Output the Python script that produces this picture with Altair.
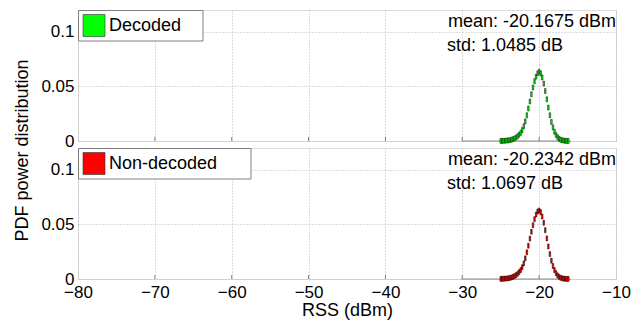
import altair as alt
import pandas as pd

FONT = "Liberation Sans"

# bin centres (dBm), bin width 0.2 dBm
centers = [round(-30 + 0.2 * i, 1) for i in range(71)]  # -30.0 ... -16.0
bin_half = 0.1

decoded_vals = [0.0] * 25 + [
    0.0001, 0.0001, 0.0002, 0.0003, 0.0004, 0.0006, 0.0008, 0.0012, 0.0017, 0.0024,
    0.0032, 0.0044, 0.0058, 0.0075, 0.0100, 0.0135, 0.0180, 0.0236, 0.0298, 0.0362,
    0.0428, 0.0490, 0.0547, 0.0590, 0.0620, 0.0635, 0.0620, 0.0582, 0.0526, 0.0458,
    0.0382, 0.0307, 0.0236, 0.0175, 0.0125, 0.0085, 0.0056, 0.0035, 0.0021, 0.0012,
    0.0007, 0.0004, 0.0002, 0.0001, 0.0001, 0.0,
]
nondecoded_vals = [0.0] * 25 + [
    0.0001, 0.0002, 0.0003, 0.0004, 0.0005, 0.0007, 0.0010, 0.0014, 0.0020, 0.0027,
    0.0036, 0.0048, 0.0063, 0.0082, 0.0108, 0.0143, 0.0189, 0.0244, 0.0305, 0.0370,
    0.0433, 0.0493, 0.0548, 0.0590, 0.0618, 0.0628, 0.0612, 0.0572, 0.0515, 0.0447,
    0.0372, 0.0298, 0.0228, 0.0168, 0.0119, 0.0081, 0.0053, 0.0033, 0.0020, 0.0011,
    0.0006, 0.0003, 0.0002, 0.0001, 0.0001, 0.0,
]

series_names = ["Decoded", "Non-decoded"]
series_colors = ["#00ff00", "#ff0000"]
legend_widths = [125, 173]
mean_texts = ["mean: -20.1675 dBm", "mean: -20.2342 dBm"]
std_texts = ["std: 1.0485 dB", "std: 1.0697 dB"]

x_ticks = [-80, -70, -60, -50, -40, -30, -20, -10]
y_ticks = [0, 0.05, 0.1]

W, H = 538, 131
GRID = "#b8b8b8"


def panel(vals, name, color, lw, mean_t, std_t, bottom):
    df = pd.DataFrame({
        "x0": [c - bin_half for c in centers],
        "x1": [c + bin_half for c in centers],
        "p": vals,
        "series": name,
    })
    if bottom:
        xaxis = alt.Axis(values=x_ticks, format="d", ticks=False, domain=False,
                         labelPadding=5, labelFontSize=17, labelFont=FONT,
                         labelColor="black", title="RSS (dBm)", titleFontSize=18,
                         titleFont=FONT, titleFontWeight="normal", titlePadding=1,
                         titleColor="black", grid=True, gridDash=[1, 2],
                         gridColor=GRID, labelFlush=False)
    else:
        xaxis = alt.Axis(values=x_ticks, labels=False, ticks=False, domain=False,
                         title=None, grid=True, gridDash=[1, 2], gridColor=GRID)
    yaxis = alt.Axis(values=y_ticks, format="~g", ticks=False, domain=False,
                     labelPadding=4, labelFontSize=17, labelFont=FONT,
                     labelColor="black", grid=True, gridDash=[1, 2],
                     gridColor=GRID,
                     title="PDF power distribution", titleFontSize=18,
                     titleFont=FONT, titleFontWeight="normal", titleColor="black",
                     titleX=-47, titleY=140 if not bottom else -3.5,
                     titleOpacity=1 if not bottom else 0)
    xs = alt.Scale(domain=[-80, -10], nice=False, padding=0, zero=False)
    ys = alt.Scale(domain=[0, 0.12], nice=False, padding=0)
    base = alt.Chart(df)
    # thin baseline under the (empty) bins
    baseline = base.mark_rule(color="#8a8a8a", strokeWidth=1).encode(
        x=alt.X("min(x0):Q", scale=xs, axis=xaxis),
        x2="max(x1):Q",
        y=alt.Y(datum=0, scale=ys),
    )
    bars = base.transform_filter(alt.datum.p > 0).mark_bar(
        stroke="black", strokeWidth=0.5, opacity=1
    ).encode(
        x=alt.X("x0:Q", scale=xs, axis=xaxis),
        x2="x1:Q",
        y=alt.Y("p:Q", scale=ys, axis=yaxis),
        color=alt.Color("series:N", scale=alt.Scale(domain=[name], range=[color]),
                        legend=None),
    )
    # inward tick marks on the bottom edge
    tkdf = pd.DataFrame({"tick": x_ticks[1:-1]})
    ticks = alt.Chart(tkdf).mark_rule(color="#808080", strokeWidth=1).encode(
        x=alt.X("tick:Q", scale=xs, axis=xaxis),
        y=alt.value(H), y2=alt.value(H - 4),
    )
    # legend box (top-left, inside the axes)
    ldf = pd.DataFrame({"series": [name]})
    lbox = alt.Chart(ldf).mark_rect(fill="white", stroke="#808080", strokeWidth=1).encode(
        x=alt.value(0.5), x2=alt.value(lw), y=alt.value(0.5), y2=alt.value(31)
    )
    lsym = alt.Chart(ldf).mark_rect(stroke="#333333", strokeWidth=0.6).encode(
        x=alt.value(5), x2=alt.value(27), y=alt.value(4.5), y2=alt.value(26.5),
        fill=alt.Fill("series:N", scale=alt.Scale(domain=[name], range=[color]),
                      legend=None),
    )
    ltxt = alt.Chart(ldf).mark_text(
        align="left", baseline="middle", fontSize=18, font=FONT, color="black"
    ).encode(x=alt.value(31), y=alt.value(16), text="series:N")

    tdf = pd.DataFrame({"t": [mean_t, std_t]})
    t1 = alt.Chart(tdf).transform_filter(alt.datum.t == mean_t).mark_text(
        align="left", baseline="middle", fontSize=18, font=FONT, color="black"
    ).encode(x=alt.value(370), y=alt.value(12), text="t:N")
    t2 = alt.Chart(tdf).transform_filter(alt.datum.t == std_t).mark_text(
        align="left", baseline="middle", fontSize=18, font=FONT, color="black"
    ).encode(x=alt.value(369), y=alt.value(36), text="t:N")
    return alt.layer(baseline, ticks, bars, lbox, lsym, ltxt, t1, t2).properties(
        width=W, height=H
    ).resolve_scale(color="independent", fill="independent")


top = panel(decoded_vals, series_names[0], series_colors[0], legend_widths[0],
            mean_texts[0], std_texts[0], False)
bot = panel(nondecoded_vals, series_names[1], series_colors[1], legend_widths[1],
            mean_texts[1], std_texts[1], True)

chart = alt.vconcat(top, bot, spacing=7, bounds="flush").resolve_scale(
    color="independent", fill="independent"
).properties(
    padding={"left": 4, "top": 1, "right": 0, "bottom": 0}
).configure_view(
    stroke="#808080", strokeWidth=1
).configure(font=FONT, background="white")

chart.save("out.html", embed_options={"renderer": "svg", "actions": False})
